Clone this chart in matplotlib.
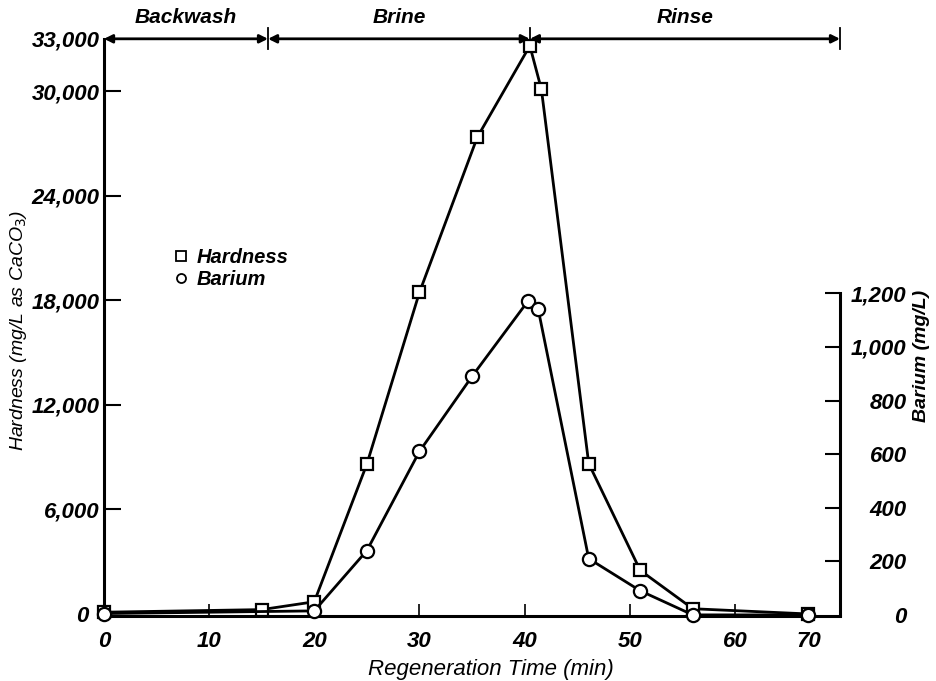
import numpy as np
import matplotlib.pyplot as plt
import matplotlib.transforms as mtrans
from matplotlib.lines import Line2D

plt.rcParams['font.family'] = ['Liberation Sans', 'DejaVu Sans']

# hardness (mg/L as CaCO3) vs regeneration time (min)
hard_t = [0, 15, 20, 25, 30, 35.5, 40.5, 41.6, 46.1, 51, 56, 67]
hard_v = [100, 250, 700, 8600, 18450, 27350, 32600, 30100, 8630, 2500, 300, 0]

# barium (mg/L)
ba_t = [0, 20, 25, 30, 35, 40.3, 41.3, 46.1, 51, 56, 67]
ba_v = [5, 15, 240, 610, 890, 1170, 1140, 210, 90, 0, 0]

phase_names = ['Backwash', 'Brine', 'Rinse']
phase_edges = [0, 15.6, 40.5, 70]

x_ticks = [0, 10, 20, 30, 40, 50, 60, 67]
x_labels = ['0', '10', '20', '30', '40', '50', '60', '70']
hard_ticks = [0, 6000, 12000, 18000, 24000, 30000, 33000]
ba_ticks = [0, 200, 400, 600, 800, 1000, 1200]

fig = plt.figure(figsize=(9.37, 6.81), dpi=100)
ax = fig.add_axes([0.111, 0.0955, 0.7855, 0.8475])
ax2 = ax.twinx()

lw = 2.0
ax.plot(hard_t, hard_v, color='black', lw=lw, marker='s', ms=8.5,
        mfc='white', mec='black', mew=1.6, zorder=3, clip_on=False)
ax2.plot(ba_t, ba_v, color='black', lw=lw, marker='o', ms=9.5,
         mfc='white', mec='black', mew=1.6, zorder=3, clip_on=False)

ax.set_xlim(0, 70)
ax.set_ylim(-115, 33000)
ax2.set_ylim(-4, 2150)

for s in ['top', 'right']:
    ax.spines[s].set_visible(False)
for s in ['top', 'left', 'bottom']:
    ax2.spines[s].set_visible(False)
ax.spines['left'].set_bounds(0, 33000)
ax2.spines['right'].set_bounds(0, 1200)
for s in ['left', 'bottom']:
    ax.spines[s].set_linewidth(2.2)
ax2.spines['right'].set_linewidth(2.2)

tfont = dict(style='italic', weight='bold', size=16)

ax.set_xticks(x_ticks)
ax.set_xticklabels(x_labels, **tfont)
ax.tick_params(axis='x', direction='in', length=9, width=1.2, pad=11)
ax.xaxis.get_major_ticks()[0].tick1line.set_visible(False)
ax.xaxis.get_major_ticks()[-1].tick1line.set_visible(False)

ax.set_yticks(hard_ticks)
ax.set_yticklabels(['{:,}'.format(v) for v in hard_ticks], **tfont)
ax.tick_params(axis='y', direction='in', length=12, width=1.5, pad=3)
ax.yaxis.get_major_ticks()[0].tick1line.set_visible(False)
ax.yaxis.get_major_ticks()[-1].tick1line.set_visible(False)
# the "0" sits a little further left so it clears the first marker
lab0 = ax.yaxis.get_major_ticks()[0].label1
lab0.set_transform(lab0.get_transform() +
                   mtrans.ScaledTranslation(-8 / 72, 0, fig.dpi_scale_trans))

ax2.set_yticks(ba_ticks)
ax2.set_yticklabels(['{:,}'.format(v) for v in ba_ticks], ha='right', **tfont)
ax2.tick_params(axis='y', direction='in', length=11, width=1.5, pad=48)
ax2.yaxis.get_major_ticks()[0].tick2line.set_visible(False)

ax.set_xlabel('Regeneration Time (min)', style='italic', size=16)
ax.xaxis.set_label_coords(0.525, -0.075)
ax.set_ylabel('Hardness (mg/L as CaCO$_3$)', style='italic', size=14)
ax.yaxis.set_label_coords(-0.102, 0.495)
ax2.set_ylabel('Barium (mg/L)', style='italic', weight='bold', size=14)
ax2.yaxis.set_label_coords(1.099, 0.45)

# phase arrows along the top
top = hard_ticks[-1]
for i, name in enumerate(phase_names):
    a, b = phase_edges[i], phase_edges[i + 1]
    ax.annotate('', xy=(a, top), xytext=(b, top), annotation_clip=False,
                arrowprops=dict(arrowstyle='<|-|>', color='black', lw=2,
                                shrinkA=0, shrinkB=0, mutation_scale=12))
    ax.annotate(name, xy=((a + b) / 2, top), xytext=(0, 15),
                textcoords='offset points', ha='center', va='center',
                style='italic', weight='bold', size=15, annotation_clip=False)
for e in phase_edges[1:]:
    ax.plot([e, e], [32400, 33600], color='black', lw=1.3, clip_on=False)

handles = [Line2D([], [], ls='none', marker='s', ms=6.5, mfc='white', mec='black', mew=1.3),
           Line2D([], [], ls='none', marker='o', ms=6.5, mfc='white', mec='black', mew=1.3)]
leg = ax.legend(handles, ['Hardness', 'Barium'], loc='upper left',
                bbox_to_anchor=(0.085, 0.652), frameon=False, handlelength=0.6,
                handletextpad=0.5, labelspacing=0.15, borderaxespad=0,
                prop=dict(style='italic', weight='bold', size=14.5))

fig.savefig('out.png', dpi=100)
